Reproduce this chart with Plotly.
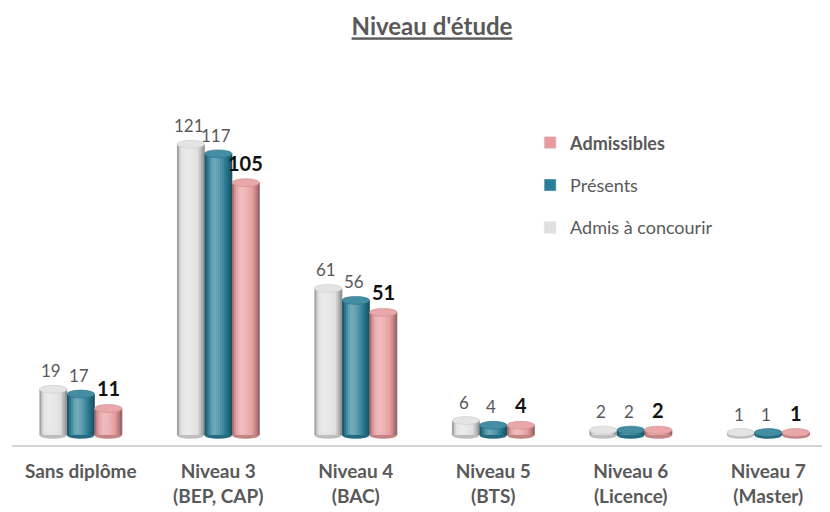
import plotly.graph_objects as go

categories = ["Sans diplôme", "Niveau 3<br>(BEP, CAP)", "Niveau 4<br>(BAC)",
              "Niveau 5<br>(BTS)", "Niveau 6<br>(Licence)", "Niveau 7<br>(Master)"]
admis_concourir = [19, 121, 61, 6, 2, 1]
presents = [17, 117, 56, 4, 2, 1]
admissibles = [11, 105, 51, 4, 2, 1]

series = [
    ("Admis à concourir", admis_concourir, (224, 224, 224), False),
    ("Présents", presents, (42, 125, 150), False),
    ("Admissibles", admissibles, (230, 155, 158), True),
]

FONT = "Lato, 'Open Sans', sans-serif"
GREY_TXT = "#595959"
BAR_W = 0.2
CAP_H = 3.3  # ellipse height in data units (~8 px)


def rgb(c, f):
    # f > 0 lightens towards white, f < 0 darkens
    if f >= 0:
        c = [v + (255 - v) * f for v in c]
    else:
        c = [v * (1 + f) for v in c]
    return "rgb(%d,%d,%d)" % tuple(int(round(v)) for v in c)


def shade(t):
    # cylinder lighting across the width, highlight a bit left of centre
    d = (t - 0.35) / 0.65 if t > 0.35 else (0.35 - t) / 0.35
    return 0.35 - 0.75 * d ** 1.6


fig = go.Figure()
xs = list(range(len(categories)))
for k, (name, vals, col, bold) in enumerate(series):
    fig.add_trace(go.Bar(
        x=xs, y=vals, name="<b>%s</b>" % name if bold else name,
        marker=dict(color=rgb(col, 0)), legendgroup=name, legendrank=3 - k,
        hoverinfo="skip",
    ))

shapes = []
annotations = []
strips = 14
for k, (name, vals, col, bold) in enumerate(series):
    off = (k - 1) * BAR_W
    for i, v in enumerate(vals):
        left = i + off - BAR_W / 2
        # bottom ellipse
        shapes.append(dict(type="circle", xref="x", yref="y", x0=left, x1=left + BAR_W,
                           y0=-CAP_H / 2, y1=CAP_H / 2, fillcolor=rgb(col, -0.15),
                           line=dict(width=0), layer="above"))
        for s in range(strips):
            t = (s + 0.5) / strips
            shapes.append(dict(type="rect", xref="x", yref="y",
                               x0=left + BAR_W * s / strips, x1=left + BAR_W * (s + 1) / strips + 0.002,
                               y0=0, y1=v, fillcolor=rgb(col, shade(t)),
                               line=dict(width=0), layer="above"))
        # top cap
        shapes.append(dict(type="circle", xref="x", yref="y", x0=left, x1=left + BAR_W,
                           y0=v - CAP_H / 2, y1=v + CAP_H / 2, fillcolor=rgb(col, 0.12),
                           line=dict(width=0.6, color=rgb(col, -0.1)), layer="above"))
        annotations.append(dict(
            x=i + off, y=v, xref="x", yref="y", text="<b>%d</b>" % v if bold else str(v),
            showarrow=False, yanchor="bottom", yshift=6, xshift=0 if bold else -2,
            font=dict(family=FONT, size=20 if bold else 17, color="#111111" if bold else GREY_TXT),
        ))

# the page body adds an 8px offset to the figure
fig.update_layout(
    width=830, height=504,
    margin=dict(l=4, r=1, t=87, b=67),
    paper_bgcolor="white", plot_bgcolor="white",
    barmode="group", bargap=0.4, bargroupgap=0,
    title=dict(text="<u><b>Niveau d'étude</b></u>", x=424 / 830, xref="container",
               y=1 - 19 / 504, yanchor="middle",
               font=dict(family=FONT, size=24, color=GREY_TXT)),
    xaxis=dict(tickvals=xs, ticktext=["<b>%s</b>" % c for c in categories], range=[-0.5, 5.5],
               showgrid=False, zeroline=False, showline=True, linecolor="#d4d4d4", linewidth=2,
               ticks="", ticklabelstandoff=8,
               tickfont=dict(family=FONT, size=19, color=GREY_TXT)),
    yaxis=dict(range=[-4.2, 141.5], visible=False),
    legend=dict(x=0.628, y=0.916, xanchor="left", yanchor="top", traceorder="grouped",
                tracegroupgap=16, font=dict(family=FONT, size=18, color=GREY_TXT),
                bgcolor="rgba(0,0,0,0)"),
    shapes=shapes, annotations=annotations,
)

fig.write_html("out.html")
